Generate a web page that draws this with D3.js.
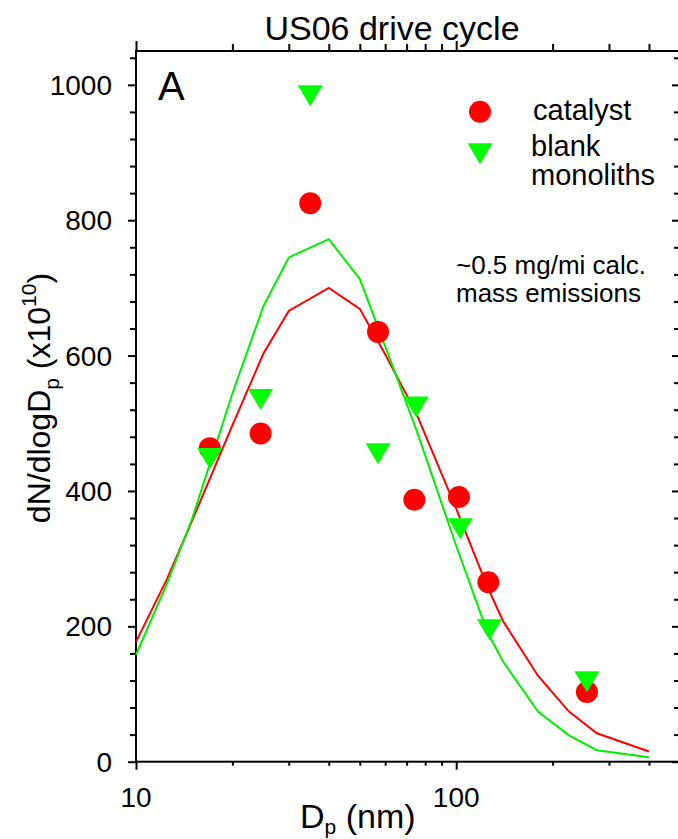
<!DOCTYPE html>
<html>
<head>
<meta charset="utf-8">
<script src="https://cdn.jsdelivr.net/npm/d3@7/dist/d3.min.js"></script>
<style>
  body { margin: 0; background: #fff; }
  svg { display: block; font-family: "Liberation Sans", Arial, sans-serif; }
</style>
</head>
<body>
<div id="app"></div>
<script>
const width = 678;
const height = 839;

// measured points (Dp in nm, dN/dlogDp in 1e10)
const catalystD = [17, 24.5, 35, 57, 74, 102, 126, 256];
const catalystN = [463, 485, 825, 635, 387, 391, 265, 103];
const blankD = [17, 24.5, 35, 57, 75, 103, 127, 256];
const blankN = [448, 535, 984, 455, 524, 344, 195, 118];

// fitted curves
const fitD = [10, 12.5, 15, 20, 25, 30, 40, 50, 60, 75, 100, 125, 140, 180, 225, 275, 400];
const catalystFit = [177, 270, 357, 497, 603, 666, 700, 669, 602, 515, 374, 259, 208, 127, 74, 42, 15];
const blankFit = [158, 263, 360, 544, 673, 745, 772, 713, 614, 491, 319, 192, 148, 74, 39, 17, 6.5];

const xMajorTicks = [10, 100];
const xMinorTicks = [20, 30, 40, 50, 60, 70, 80, 90, 200, 300, 400];
const yMajorTicks = [0, 200, 400, 600, 800, 1000];
const yMinorTicks = d3.range(0, 1050, 40).filter(d => d % 200 !== 0);

const plotL = 136, plotR = 680, plotT = 51, plotB = 761.7;

const x = d3.scaleLog().domain([10, 500]).range([plotL, plotR]);
const y = d3.scaleLinear().domain([0, 1050]).range([plotB, plotT]);

const svg = d3
  .select("#app")
  .append("svg")
  .attr("width", width)
  .attr("height", height);

// ticks
function ticks(axis, pos, values, size) {
  const g = svg.append("g")
    .attr("transform", pos)
    .call(axis.tickValues(values).tickSize(size).tickFormat(""));
  g.select(".domain").remove();
  g.selectAll("line").attr("stroke", "#000").attr("stroke-width", 2);
}
ticks(d3.axisBottom(x), `translate(0,${plotB})`, xMinorTicks, 4);
ticks(d3.axisBottom(x), `translate(0,${plotB})`, xMajorTicks, 8);
ticks(d3.axisBottom(x), `translate(0,${plotT})`, xMinorTicks, -7);
ticks(d3.axisBottom(x), `translate(0,${plotT})`, xMajorTicks, -10);
ticks(d3.axisLeft(y), `translate(${plotL},0)`, yMinorTicks, 6);
ticks(d3.axisLeft(y), `translate(${plotL},0)`, yMajorTicks, 8);
ticks(d3.axisLeft(y), `translate(${plotR},0)`, yMinorTicks, 6);
ticks(d3.axisLeft(y), `translate(${plotR},0)`, yMajorTicks, 8);

// frame
svg.append("rect")
  .attr("x", plotL).attr("y", plotT)
  .attr("width", plotR - plotL).attr("height", plotB - plotT)
  .attr("fill", "none").attr("stroke", "#000").attr("stroke-width", 2);

// tick labels
svg.selectAll(".ylab").data(yMajorTicks).enter().append("text")
  .attr("x", 112).attr("y", d => y(d) + 10)
  .attr("text-anchor", "end").attr("font-size", 28)
  .text(d => d);
svg.selectAll(".xlab").data(xMajorTicks).enter().append("text")
  .attr("x", d => x(d)).attr("y", 806.7)
  .attr("text-anchor", "middle").attr("font-size", 28)
  .text(d => d);

// fitted lines
const line = d3.line().x(d => x(d[0])).y(d => y(d[1]));
svg.append("path")
  .attr("d", line(d3.zip(fitD, catalystFit)))
  .attr("fill", "none").attr("stroke", "#ff0000").attr("stroke-width", 2);
svg.append("path")
  .attr("d", line(d3.zip(fitD, blankFit)))
  .attr("fill", "none").attr("stroke", "#00ee00").attr("stroke-width", 2);

// markers
const tri = "M-12.5,-10.5L12.5,-10.5L0,10.5Z";
svg.selectAll(".cat").data(d3.zip(catalystD, catalystN)).enter().append("circle")
  .attr("cx", d => x(d[0])).attr("cy", d => y(d[1])).attr("r", 11)
  .attr("fill", "#ff0000");
svg.selectAll(".blank").data(d3.zip(blankD, blankN)).enter().append("path")
  .attr("d", tri)
  .attr("transform", d => `translate(${x(d[0])},${y(d[1])})`)
  .attr("fill", "#00ff00");

// legend
svg.append("circle").attr("cx", 480).attr("cy", 111.7).attr("r", 11).attr("fill", "#ff0000");
svg.append("path").attr("d", tri).attr("transform", "translate(480,153.8)").attr("fill", "#00ff00");
svg.append("text").attr("x", 533).attr("y", 120).attr("font-size", 29).text("catalyst");
svg.append("text").attr("x", 531).attr("y", 156).attr("font-size", 29).text("blank");
svg.append("text").attr("x", 531).attr("y", 185).attr("font-size", 29).text("monoliths");

svg.append("text").attr("x", 456).attr("y", 274).attr("font-size", 26).text("~0.5 mg/mi calc.");
svg.append("text").attr("x", 456).attr("y", 301.7).attr("font-size", 26).text("mass emissions");

// panel letter and title
svg.append("text").attr("x", 158).attr("y", 100).attr("font-size", 40).text("A");
svg.append("text").attr("x", 392).attr("y", 40).attr("text-anchor", "middle")
  .attr("font-size", 34).text("US06 drive cycle");

// axis titles
const xt = svg.append("text").attr("x", 300).attr("y", 828).attr("font-size", 34);
xt.append("tspan").text("D");
xt.append("tspan").attr("font-size", 21).attr("dy", 6).text("p");
xt.append("tspan").attr("dy", -6).text(" (nm)");

const yt = svg.append("text")
  .attr("transform", "translate(50,398) rotate(-90)")
  .attr("text-anchor", "middle").attr("font-size", 32);
yt.append("tspan").text("dN/dlogD");
yt.append("tspan").attr("font-size", 21).attr("dy", 9).text("p");
yt.append("tspan").attr("dy", -9).text(" (x10");
yt.append("tspan").attr("font-size", 21).attr("dy", -14).text("10");
yt.append("tspan").attr("dy", 14).text(")");
</script>
</body>
</html>
